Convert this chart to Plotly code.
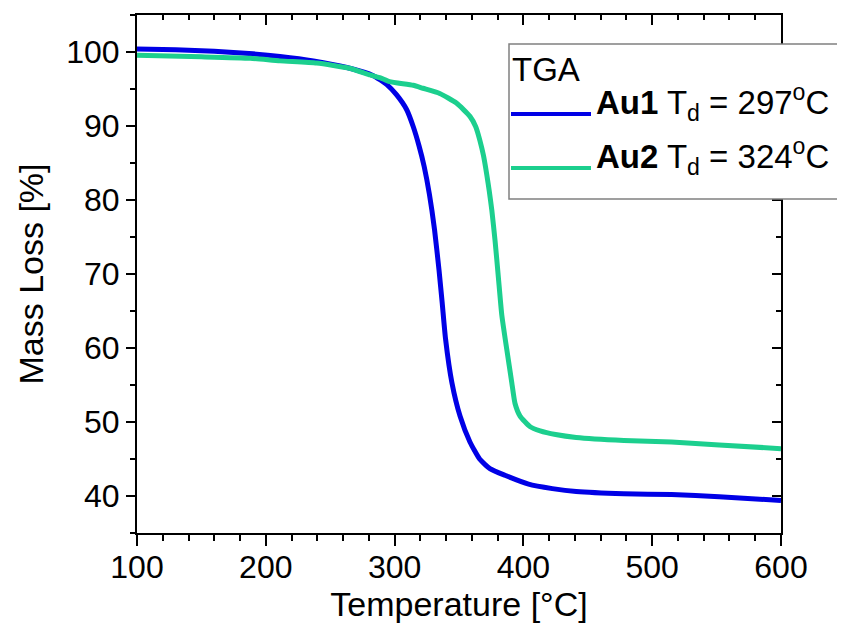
import plotly.graph_objects as go

# ---- data ----
temp_au1 = [100, 130, 160, 190, 211, 237, 263, 283.5, 294, 301.6, 309.4, 314.5, 319, 323, 327, 331,
            334.5, 337, 339.5, 344.5, 350.8, 358.5, 366, 374, 385.6, 404, 422.5, 441, 478, 515, 552, 600]
mass_au1 = [100.4, 100.3, 100.1, 99.75, 99.4, 98.8, 97.9, 96.8, 95.6, 94.2, 92.2, 89.9, 87.3, 84.5, 80.8, 76.0,
            70.5, 66.0, 61.3, 55.3, 50.8, 47.3, 45.0, 43.7, 42.8, 41.6, 41.0, 40.6, 40.3, 40.2, 39.9, 39.4]

temp_au2 = [100, 150, 188, 211, 239.5, 265, 281, 289, 296, 314.5, 322, 335, 348, 358.5, 363, 366.3,
            369, 371.5, 373.5, 375.5, 378, 380.6, 383.2, 387.1, 391, 393.5, 397.4, 405, 413, 425, 441, 478,
            515, 552, 600]
mass_au2 = [99.55, 99.35, 99.15, 98.8, 98.5, 97.8, 96.9, 96.5, 96.0, 95.5, 95.1, 94.4, 93.1, 91.3, 89.9, 88.0,
            86.0, 83.5, 81.2, 78.6, 74.5, 69.5, 64.5, 59.8, 55.3, 52.5, 50.8, 49.4, 48.8, 48.3, 47.9, 47.5,
            47.3, 46.9, 46.4]

series_names = ["Au1", "Au2"]
td_values = [297, 324]
legend_title = "TGA"
x_title = "Temperature [°C]"
y_title = "Mass Loss [%]"
x_range = [100, 600]
y_range = [35, 105]
y_ticks = [40, 50, 60, 70, 80, 90, 100]

colors = ["#0000E6", "#1CCF8E"]
FONT = "Liberation Sans, Arial, sans-serif"

# the page body has an 8 px margin, so the figure is drawn 8 px right/down
OFF = 8
W, H = 845 - OFF, 633 - OFF
# plot area in window pixels: x 137..781, y 15..533
L, R, T, B = 137 - OFF, 845 - 781, 15 - OFF, 633 - 533
pw, ph = W - L - R, H - T - B


def px2paper(x, y):
    # x, y in window pixels of the reference
    return (x - OFF - L) / pw, (H - B - (y - OFF)) / ph


fig = go.Figure()
fig.add_trace(go.Scatter(x=temp_au1, y=mass_au1, mode="lines", name=series_names[0],
                         line=dict(color=colors[0], width=5, shape="spline", smoothing=0.5),
                         xaxis="x", yaxis="y", showlegend=False))
fig.add_trace(go.Scatter(x=temp_au2, y=mass_au2, mode="lines", name=series_names[1],
                         line=dict(color=colors[1], width=5, shape="spline", smoothing=0.5),
                         xaxis="x2", yaxis="y2", showlegend=False))

tick_common = dict(showgrid=False, zeroline=False, tickcolor="black", tickwidth=2, automargin=False)

fig.update_layout(
    width=W, height=H,
    margin=dict(l=L, r=R, t=T, b=B, autoexpand=False),
    paper_bgcolor="white", plot_bgcolor="white",
    font=dict(family=FONT, color="black"),
    xaxis=dict(range=x_range, dtick=100, ticks="outside", ticklen=11, mirror=True,
               linecolor="black", linewidth=2,
               minor=dict(dtick=20, ticks="outside", ticklen=6, tickcolor="black", tickwidth=2),
               tickfont=dict(size=32), ticklabelstandoff=-6,
               title=dict(text=x_title, font=dict(size=34), standoff=3),
               **tick_common),
    yaxis=dict(range=y_range, tickvals=y_ticks, ticks="outside", ticklen=9, mirror=True,
               linecolor="black", linewidth=2,
               minor=dict(dtick=5, ticks="outside", ticklen=5, tickcolor="black", tickwidth=2),
               tickfont=dict(size=32), ticklabelstandoff=0,
               title=dict(text=y_title, font=dict(size=34), standoff=12),
               **tick_common),
    xaxis2=dict(range=x_range, overlaying="x", side="top", dtick=100, ticks="inside", ticklen=10,
                minor=dict(dtick=20, ticks="inside", ticklen=5, tickcolor="black", tickwidth=2),
                showticklabels=False, showline=False, **tick_common),
    yaxis2=dict(range=y_range, overlaying="y", side="right", tickvals=y_ticks,
                ticks="inside", ticklen=9,
                minor=dict(dtick=5, ticks="inside", ticklen=5, tickcolor="black", tickwidth=2),
                showticklabels=False, showline=False, **tick_common),
)

# ---- manual legend (Origin style) ----
x0, y1 = px2paper(509, 44)
x1, y0 = px2paper(843, 199)
fig.add_shape(type="rect", xref="paper", yref="paper", x0=x0, x1=x1, y0=y0, y1=y1,
              line=dict(color="#808080", width=1.5), fillcolor="white", layer="above")

tx, ty = px2paper(510, 69)
fig.add_annotation(xref="paper", yref="paper", x=tx, y=ty, text=legend_title, showarrow=False,
                   xanchor="left", yanchor="middle", font=dict(size=33, family=FONT, color="black"))

line_y = [114, 168]
text_y = [102, 156]
for i in range(2):
    lx0, ly = px2paper(511, line_y[i])
    lx1, _ = px2paper(591, line_y[i])
    fig.add_shape(type="line", xref="paper", yref="paper", x0=lx0, x1=lx1, y0=ly, y1=ly,
                  line=dict(color=colors[i], width=4), layer="above")
    ax, ay = px2paper(594, text_y[i])
    fig.add_annotation(xref="paper", yref="paper", x=ax, y=ay,
                       text=f"<b>{series_names[i]}</b> T<sub>d</sub> = {td_values[i]}<sup>o</sup>C",
                       showarrow=False, xanchor="left", yanchor="middle",
                       font=dict(size=33, family=FONT, color="black"))

fig.write_html("out.html")
